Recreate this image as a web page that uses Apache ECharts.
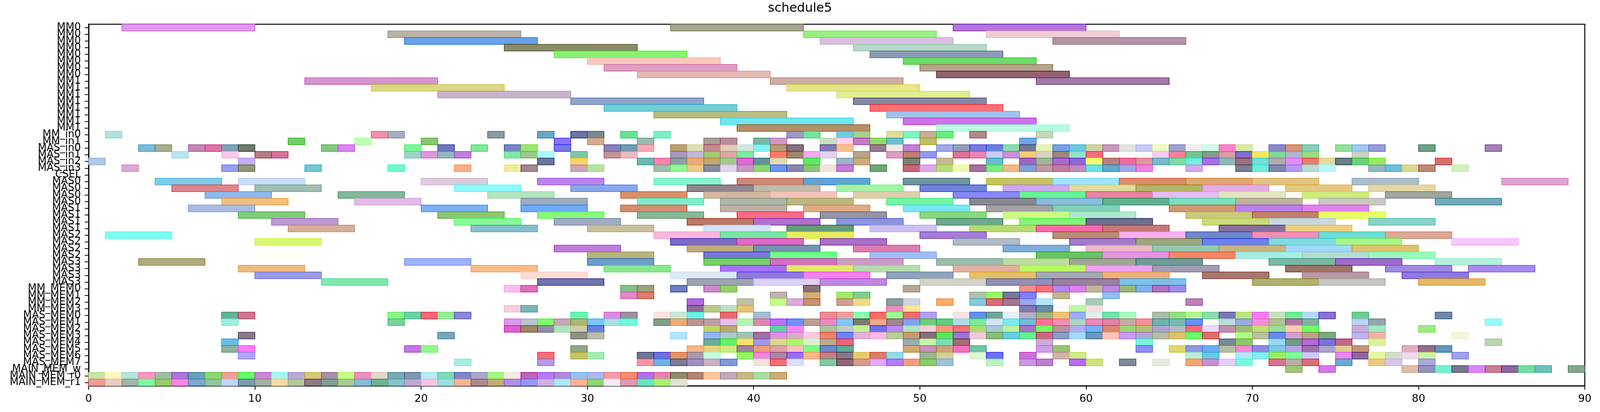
<!DOCTYPE html>
<html>
<head>
<meta charset="utf-8">
<title>schedule5</title>
<script src="https://cdn.jsdelivr.net/npm/echarts@6/dist/echarts.min.js"></script>
<style>
  html, body { margin: 0; padding: 0; background: #fff; overflow: hidden; }
  #chart { width: 100vw; height: 100vh; }
</style>
</head>
<body>
<div id="chart"></div>
<script>
// row names, top to bottom
var rowLabels = [
  'MM0','MM0','MM0','MM0','MM0','MM0','MM0','MM0',
  'MM1','MM1','MM1','MM1','MM1','MM1','MM1','MM1',
  'MM_in0','MM_in1','MAS_in0','MAS_in1','MAS_in2','MAS_in3','CSEL',
  'MAS0','MAS0','MAS0','MAS0','MAS1','MAS1','MAS1','MAS1',
  'MAS2','MAS2','MAS2','MAS2','MAS3','MAS3','MAS3','MAS3',
  'MM_MEM0','MM_MEM1','MM_MEM2','MM_MEM3',
  'MAS_MEM0','MAS_MEM1','MAS_MEM2','MAS_MEM3','MAS_MEM4','MAS_MEM5','MAS_MEM6','MAS_MEM7',
  'MAIN_MEM_w','MAIN_MEM_r0','MAIN_MEM_r1'
];
var xTicks = [0, 10, 20, 30, 40, 50, 60, 70, 80, 90];

// task lengths per kind of row
var mmLength = 8;
var masLength = 4;
var unitLength = 1;

// MM0 / MM1 rows (0..15)
var mmStarts = [
  [2,35,52],[18,43,54],[19,44,58],[25,46],[28,47],[30,49],[31,50],[33,51],
  [13,41,57],[17,42],[21,45],[29,46],[31,47],[34,48],[38,49],[39,51]
];
var mmColors = [
  ['#e099f0','#a5a592','#b277de'],['#bbb0a6','#98ef7f','#f3cbd4'],['#6aa1e8','#d9c0e0','#b594a8'],
  ['#8c8b6a','#b5d8c7'],['#88f270','#8d9cb5'],['#f8c8be','#6cdc6a'],['#dd9ec3','#b4a48a'],['#e4b8b6','#93636f'],
  ['#d595d0','#ccaea6','#a37aa8'],['#dbd784','#e6e58a'],['#c8b3cc','#e1ed8f'],['#91a4cc','#8388a3'],
  ['#72ced8','#fe6f72'],['#b8bd82','#9ec3ec'],['#73e5ef','#cc75e8'],['#b68f66','#b9fae0']
];

// MM_in0 .. CSEL rows (16..22)
var inStarts = [
  [1,17,18,24,27,29,30,32,34,42,43,45,46,48,49,50,51,53,57],
  [12,16,20,28,30,33,37,38,40,41,44,45,46,47,48,50,56],
  [3,4,6,7,8,9,14,15,19,21,23,25,26,28,31,32,33,35,36,37,38,39,40,41,42,44,45,47,48,49,51,52,53,54,55,56,57,58,59,60,61,62,63,64,65,66,67,68,69,71,72,73,75,76,77,80,84],
  [5,8,10,11,19,20,21,22,25,26,27,29,31,32,35,36,37,38,39,41,42,43,44,46,48,49,50,52,53,54,55,56,57,58,59,60,64,65,66,67,68,69,70,71,72,73,76],
  [0,9,27,29,33,34,35,36,37,38,39,40,41,43,45,46,49,51,54,56,57,58,59,60,61,62,63,64,65,66,67,68,69,70,71,72,73,74,75,76,77,81],
  [2,8,9,13,18,22,25,26,29,30,34,35,36,37,38,39,40,41,42,43,44,45,47,49,50,51,52,53,54,55,56,57,58,59,60,61,62,63,66,69,70,71,72,73,74,77,78,79,80,82],
  []
];
var inColors = [
  ['#b0e2dc','#f08fa5','#a7adbf','#8d9b9e','#6aa9c6','#6d73a4','#7d8a8d','#64e495','#7bf0c8','#9d97c6','#6ee898','#72ccdf','#a5d38a','#e2de9a','#7bf7bd','#c9ad98','#66ef7a','#ae8a8c','#c4d9b8'],
  ['#74cc6c','#c2fdb8','#88c670','#8a75f8','#d2ad91','#95bbb1','#a89e93','#b48e9a','#78b6a6','#ce99c9','#c8dfc0','#fdd3ee','#c37ac8','#94dc6c','#6bbfcd','#bfc06a','#70a6e0'],
  ['#79bad6','#a4b08d','#c088b3','#df70a8','#7fa2b8','#6f7a6e','#86c97e','#dc82f4','#78f898','#7078bc','#7ee89a','#7688c4','#98e86e','#7878e8','#8882bc','#6aa0ac','#f8aab4','#bba06e','#dddfb4','#c88890','#e2c8bc','#cfe8dc','#88f2f4','#b49c6c','#867080','#8478b4','#f8c08c','#9a7a90','#f4e8e6','#c081d4','#a0a8e8','#929db8','#7878e0','#6c80e0','#8cdcaa','#787890','#e8f2b4','#78a0e8','#6cc8e0','#cfd3a4','#c898bc','#e2e2de','#c8ccf4','#f0fac0','#9ea0d0','#f2eeec','#d4fae8','#fc84cc','#d8e8a8','#8c88cc','#d49478','#84d0b4','#96e09c','#9ec8ec','#989cd8','#6fa088','#a480b8'],
  ['#b8e4f0','#f6cae8','#b47c80','#d670a0','#9cd4c8','#dc98e0','#90b8c0','#bc80dc','#80e8a4','#9cc890','#acfcfc','#7cc8a4','#c09498','#ecb8c0','#a898c0','#c0b8d8','#a4c874','#dca8a8','#7cec9c','#f87c70','#a08470','#eeaaf4','#e0d4e8','#b4a888','#d8a0c4','#bc8070','#9498f4','#e07094','#ec84b0','#c4d0f8','#c890d8','#f4cc74','#d8d4c0','#9c8878','#90e4d0','#f86a80','#f4cdf0','#f88098','#70c890','#80a088','#dc9aa8','#8070d0','#f2ea64','#80d898','#b0b4d0','#a0d884','#c8d0c0'],
  ['#b0c8e8','#c6b0f4','#68789c','#fad26c','#6cb8b0','#fa84ac','#8ca0a4','#e8ac78','#c4a870','#a4c890','#e068d8','#6890a0','#e0dcb0','#64e864','#9cb4c4','#c8ac80','#7a8474','#c8b898','#6cb8d0','#a264c4','#a0b49c','#a46cd0','#8c68d8','#f4fc70','#bc8080','#ec6c9c','#e0949c','#7cb8cc','#80d8a8','#70f0e0','#a870e4','#90b8b4','#a07080','#78dcd8','#b4a8b0','#e090f0','#e87c70','#e4d8a0','#6c7c88','#70d07c','#98ec60','#d87070'],
  ['#dca8d4','#98a0f4','#909878','#70c8d8','#6cfcd0','#f8b084','#ecee9c','#a08890','#cca8b4','#b4e4a0','#9cc0ac','#90f890','#ecc88c','#888ca4','#e0d4f0','#c898c0','#8cd870','#6c94f8','#8888b0','#8cc478','#f0e4dc','#c878dc','#70a878','#cc6478','#dca8e8','#b8dc7c','#ecfcac','#a870a0','#78ec80','#f4b884','#80a0d8','#c098a8','#c47ca0','#c08cbc','#6ce0e8','#64a8d0','#a0a8e8','#ec84e0','#d4a8f0','#7c8090','#70ecd8','#8088b0','#b898f4','#b8dcd0','#b4fafc','#94b8c0','#6cc0dc','#dcd894','#bc8878','#d4f0bc'],
  []
];

// MAS0 .. MAS3 rows (23..38)
var masStarts = [
  [4,9,20,27,34,39,43,49,54,58,62,66,70,76,85],
  [5,10,22,29,36,40,45,50,55,59,63,67,72,77],
  [7,15,24,32,37,41,46,52,56,60,64,68,73,78],
  [8,16,26,33,38,42,48,53,57,61,65,69,74,81],
  [6,20,26,32,38,43,49,54,58,65,69,73],
  [9,21,27,33,39,44,50,55,59,66,70,74],
  [11,22,28,36,40,45,51,56,60,67,71,77],
  [12,23,30,37,42,47,53,57,61,68,72],
  [1,34,38,42,50,58,62,66,70,74,78],
  [10,35,39,44,52,59,63,67,71,75,82],
  [28,36,40,46,55,60,64,68,72,76],
  [30,37,41,47,57,61,65,69,73,77],
  [3,19,30,37,41,45,51,55,59,63,71,75,81],
  [9,23,31,38,42,46,52,56,60,64,72,78,83],
  [10,26,35,39,43,48,53,57,61,67,73,79],
  [14,27,36,40,44,50,54,58,62,70,74,80]
];
var masColors = [
  ['#80cae8','#cadcf4','#ddcbdd','#bc84ec','#88f4cf','#cf8a78','#64a4d4','#73959c','#c4c464','#9ee4fc','#dc8c70','#e0a870','#e4c484','#acbccc','#e0a4d0'],
  ['#e0848c','#a0bfb1','#8cfafa','#88a8ec','#908490','#c4b8a8','#a2f4a4','#7084e0','#cca8f0','#e0dc9c','#b4b464','#e4ace0','#e4c87c','#e4d8a8'],
  ['#90b8ea','#82b89c','#b4e4c0','#d8906c','#d4b8a0','#f4c4bc','#dcd0ac','#8888f8','#68f494','#e884a0','#e4bcf4','#e2e4c0','#ccec80','#9ea69e'],
  ['#f2be7c','#e0bce4','#9eacbc','#80eccc','#aab8a8','#bcb884','#78f4a4','#888890','#8cbcd8','#64b090','#7ce0c0','#bcb4a0','#c8c8c0','#74aab8'],
  ['#a8bce4','#7ab0f4','#6aacfc','#d48c70','#c0b0a4','#e0ac84','#78e8f4','#a4a0a4','#80d0b8','#d09870','#bc80ec','#e080ec'],
  ['#80cc7c','#8cc474','#88f880','#88b898','#fa6c88','#9494a4','#88d880','#ccfa88','#b0e8d0','#ccc880','#c08070','#e8fc68'],
  ['#c098d4','#88f898','#a0acc4','#bc7868','#b070cc','#8c94dc','#70a890','#80f878','#6c7090','#c8dc7c','#c8d8e0','#88d4c8'],
  ['#d8b098','#84c0cc','#c8c09c','#d0e4f8','#649c74','#ccc0f4','#b4dc70','#fc68a8','#c87878','#8870a0','#ecd080'],
  ['#80fcf0','#fcb8dc','#7ce4a0','#e4ec64','#a47cd8','#bc8c74','#fcb0f0','#7088c8','#f090b8','#70dcd4','#dca898'],
  ['#d8f874','#7c6cc8','#e068c8','#a870c8','#b0bcc4','#a07cc8','#9ca87c','#6c80f0','#80dce0','#a8f48c','#f4c8fc'],
  ['#c07cdc','#c0ac7c','#7094b0','#dc7cb0','#7caedc','#ecb8c8','#94c8b0','#c8b480','#a0d8fc','#dcc46c'],
  ['#b8b480','#7878d8','#70fc8c','#a4bcf0','#68c468','#e494e0','#f0886c','#a8ece4','#b4dcd4','#9cf8bc'],
  ['#b0ac7c','#a0b0f8','#6c9ecc','#78d068','#d470c0','#cc9cc4','#9cbcb0','#bcdca0','#9ea894','#6c9c98','#7cb8a4','#9c6cc8','#b4f0dc'],
  ['#f0bc7c','#f8bc88','#88e890','#a470fc','#e4e868','#b4dcac','#e4b09c','#b8fc60','#f0a0f0','#a49cb0','#9c7468','#a088e4','#a888f0'],
  ['#9c9ce4','#fcdcd4','#dce8f4','#9078e4','#f480ec','#90a4bc','#e4c068','#a4a8b0','#ecb07c','#a87870','#b898a4','#9078e0'],
  ['#80e8b0','#7074b0','#9ca4b4','#dcd0f4','#c088e0','#d4d2c8','#9090b8','#9a80a0','#7cc0ec','#b0b070','#c4c8c0','#e4b868']
];

// MM_MEM0 .. MAIN_MEM_r1 rows (39..53)
var memStarts = [
  [25,26,32,33,35,37,38,43,49,56,57,58,59,60,61,62,63,64,65],
  [32,33,41,43,45,46,53,54,55,56,58,61],
  [36,39,41,42,43,45,46,48,49,51,53,54,55,56,57,60,66],
  [25,26,36,37,38,39,48,49,56,57,59,60],
  [8,9,18,19,20,21,22,29,31,32,34,35,36,38,40,44,45,46,47,48,49,50,52,53,54,55,56,57,58,59,60,61,62,64,65,66,67,68,69,70,71,72,73,74,76,81],
  [8,18,25,26,27,28,29,30,31,32,34,35,36,37,38,39,40,41,42,43,44,45,46,47,48,49,50,51,52,53,54,55,56,57,58,59,60,61,62,63,64,65,66,68,69,70,71,72,73,76,77,84],
  [25,26,27,28,29,30,37,38,41,42,44,45,46,47,48,49,50,51,52,53,54,55,56,57,58,59,60,61,62,63,64,65,66,67,68,69,70,71,72,73,76,77,80],
  [9,21,29,30,35,37,38,39,40,41,42,43,44,45,46,47,48,49,50,51,52,53,54,55,56,57,58,59,60,61,62,63,64,65,66,67,69,70,71,72,73,74,76,77,82],
  [8,37,38,39,40,41,42,43,44,45,49,50,51,52,57,63,68,69,71,72,73,74,75,77,84],
  [8,9,19,20,29,36,37,38,39,40,41,42,43,44,45,49,50,51,52,53,57,58,63,65,66,67,68,69,70,71,72,73,74,75,76,79,80,81],
  [9,27,29,30,33,34,35,36,37,39,40,41,42,43,44,45,46,47,48,50,51,53,54,56,58,59,66,67,69,70,71,72,73,75,76,77,78,79,80,82],
  [22,27,33,34,35,36,37,38,40,41,42,44,45,46,47,48,49,50,51,54,56,57,59,60,62,64,66,67,68,69,71,72,73,75,77,78,80],
  [72,74,79,80,81,82,83,84,85,86,87,89],
  [0,1,2,3,4,5,6,7,8,9,10,11,12,13,14,15,16,17,18,19,20,21,22,23,24,25,26,27,28,29,30,31,32,33,34,35,36,37,38,39,40,41],
  [0,1,2,3,4,5,6,7,8,9,10,11,12,13,14,15,16,17,18,19,20,21,22,23,24,25,26,27,28,29,30,31,32,33,34,35]
];
var memColors = [
  ['#fcbcec','#e070b8','#84c088','#a0a07c','#6c80c0','#cc88cc','#94d068','#8c7078','#b4a898','#f09088','#fc7078','#b484f4','#e080f0','#bcb898','#bc88e8','#94b878','#80b0ec','#b470c0','#a08cec'],
  ['#e08cc4','#d88070','#c0b0b4','#ccb080','#a0ec6c','#80cc98','#b0c0ac','#98f870','#787898','#8080f8','#c0b490','#94bcec'],
  ['#ac6ce0','#c0c0a4','#c4fc88','#dca8dc','#c89070','#d0a090','#f4d888','#88a0a4','#ccd4dc','#f8ac68','#80ccdc','#dc6c74','#a47894','#98a8ec','#b8e4fc','#a4ccb8','#c080b8'],
  ['#f4d0dc','#7cb8b4','#8c6c90','#bcc888','#bce0c8','#e4c470','#e890bc','#fce898','#8478b0','#6c8ca8','#bcf8a0','#f4e0e4'],
  ['#6cb094','#cc7890','#8cf48c','#70d0ac','#f86878','#98ec98','#8c88d0','#6cf4b8','#e088e4','#a090a4','#fce4dc','#c4e8d4','#6cf4e4','#e86c6c','#a0c0d4','#ec8c94','#f0a098','#8cfcb8','#f86c6c','#9cfc98','#ec7070','#b89cf8','#f4e4e4','#6890e8','#74a498','#eaecf8','#bcacc4','#9cb888','#ecc478','#9cacf4','#e4f0e8','#70e4ac','#acf8c0','#acbcac','#98dc80','#b4f890','#8cdcac','#7c78b4','#c0e47c','#f480f4','#c8e0c0','#6cec94','#b0dcf4','#8c70d4','#70cc90','#7088a8'],
  ['#9ceee0','#78d498','#dc98ec','#b8c4cc','#7cfc6c','#c4a8b4','#a8b870','#78c4fc','#a4e0e4','#6cfcd8','#7ca088','#ecac78','#c09494','#bc9ca4','#e4c0ec','#b0f4b0','#e088b0','#bc70f8','#7090fc','#bca090','#e88cc4','#80c8fc','#7c7c68','#f0a88c','#a08490','#80a4ec','#6ccc78','#60cc80','#b0dce8','#78ec98','#d4e4f4','#78ecec','#70bcdc','#fc7490','#f490b4','#a8d4c4','#ec88b8','#e084a4','#c4aca4','#f49098','#6cb4a8','#78b8b8','#6890f8','#b8dcdc','#98acdc','#f490dc','#acc490','#b478a8','#84b0a0','#b8d4f4','#94a4ac','#98fcfc'],
  ['#dc64cc','#9c8868','#9090a4','#b0e4bc','#d0ccac','#6c80e4','#c4d068','#bca874','#64d0a0','#f488f4','#b0c09c','#c0ccc8','#c8f09c','#7070ec','#b88cec','#b0e4c4','#f4d0dc','#fc9880','#ec7474','#acdc70','#a8c8dc','#bcf0a0','#ac70c4','#78fc68','#bc90a0','#b4acec','#78b0fc','#e08474','#a0d478','#b8c070','#aca4d4','#acbcc4','#ec6c7c','#ecd8f8','#c090b0','#9cbc78','#c4dc78','#9cdc98','#f8d0ac','#70fc70','#ccacd8','#9cecc4','#9cec84'],
  ['#887890','#78a8b8','#8c9484','#bcbcb0','#b4e4fc','#94b4f0','#b0c8cc','#a0c4b8','#a070a0','#e090ec','#dca8d4','#fccce0','#f08070','#7084f8','#e0b4d8','#f8bce4','#bccc9c','#c49c74','#886c7c','#64e05c','#9878cc','#ecccdc','#8cbc7c','#6cccdc','#6cec94','#cc6884','#8c9cc8','#a8d8fc','#6c98b8','#fcc4b8','#c89cfc','#b4a4d8','#b8bca4','#d8c470','#74f874','#d87070','#b4f88c','#b8c0a0','#6888e0','#d4a0cc','#b8a884','#7cac7c','#bcb4ec','#f0b4b0','#f8f4dc'],
  ['#68bce8','#6cac98','#64f064','#fce068','#a098e8','#dcd894','#b0f470','#dcf0d4','#b8ac90','#e86878','#98acb4','#c8f4a8','#80dcb8','#a46c74','#ccacd4','#78f4dc','#788894','#8cc86c','#98d8f8','#709c88','#b468d4','#7c70d8','#c06888','#d8f498','#b8d8b0'],
  ['#8cb49c','#fc7cf4','#c478e4','#90fc88','#90a888','#fcb488','#e4d480','#ccec80','#a0849c','#f09c78','#dca4a4','#fcc0c0','#80fc80','#6c88cc','#64a898','#d0a870','#c890b8','#cca478','#f870c0','#70c4a8','#d09cec','#9cc470','#8c90f4','#dcd870','#9098e0','#6cacf8','#b4c09c','#f888d4','#9088e0','#78cce4','#b4a8e4','#a070ac','#aaa4d0','#e0cc8c','#c49478','#e4acc0','#907088','#6498c0'],
  ['#b0a8f8','#f47078','#c4c46c','#a4ecb4','#6c7898','#7070d8','#e0946c','#a89cb0','#c4fcdc','#94f468','#f088dc','#a888a4','#9870f0','#fcb88c','#c48084','#88788c','#e4cc70','#dc7c6c','#94dce4','#9cb490','#d4cca0','#dcf8d4','#7070f4','#cc70d8','#d0b4ac','#ccec88','#bcecd8','#6cc8e0','#b4e8f4','#88ecf0','#9cec68','#84fc9c','#ccccfc','#ec88f4','#8c68a0','#e4f8a4','#d4dcc8','#ecdcec','#d0f0a4','#a0a0ec'],
  ['#a4ece4','#b09ce4','#fc94a4','#6cb4e8','#7c7c98','#9c90c4','#ccb0c8','#8098d8','#f0e4d8','#f86c74','#dce0fc','#7ccca0','#906878','#d89c88','#e4a8fc','#b47cfc','#f49c80','#8ccc68','#98c4dc','#b8f4bc','#c898e0','#c07cd4','#bc68fc','#cce47c','#808c9c','#e4ecdc','#f8a470','#c890d4','#e8ccfc','#74fce0','#e07090','#bcacac','#dc7078','#6cacd0','#ecc880','#d8c4ec','#a8a8e0'],
  ['#a0c478','#d478e4','#e0bca4','#9494bc','#74f0d0','#787890','#d888f8','#c87c94','#8c68a0','#78dca0','#70c0bc','#84a890'],
  ['#c8e4a8','#fcf8c0','#b4e4dc','#fc98bc','#a0bca8','#a878d8','#6ca0b4','#8cd870','#f0a090','#68fc68','#c888d8','#a8f4f0','#bca8d8','#d8c878','#a890a8','#c8fc88','#f08cc0','#e4d8c8','#7ca8b4','#7c98b0','#b4ecf0','#84d8b8','#7c88cc','#a8a8c8','#a0f884','#f4ece0','#c464b8','#b47cfc','#b488d8','#90c4f4','#b0b8f8','#f49ca8','#f88c6c','#b470e8','#e884b0','#8c8c70','#b48474','#f8c89c','#bcacbc','#c8b888','#acdcac','#ccac78'],
  ['#f49a94','#ecccc0','#a0b4a8','#7cfca0','#94cc6c','#fc84e0','#7ca8d0','#94c49c','#c0d4fc','#7c9cb0','#a4b0a0','#f4dca0','#b0c8a0','#907888','#7ca094','#a8cc90','#84bcd8','#6cb494','#84c4cc','#bca8d4','#f8c4e4','#98e0e4','#f4b490','#b08890','#c4ac70','#b090e4','#9498fc','#d4b0e4','#a8e8fc','#fcb094','#88d870','#f4e8f4','#e098b0','#64e8c0','#a4f470','#e0e4d4']
];

// flatten everything into [start, end, row] + fill colour
var bars = [];
var barFill = [];
function addGroup(starts, colors, firstRow, len) {
    for (var r = 0; r < starts.length; r++) {
        for (var k = 0; k < starts[r].length; k++) {
            bars.push([starts[r][k], starts[r][k] + len, firstRow + r]);
            barFill.push((colors[r] && colors[r][k]) || '#cccccc');
        }
    }
}
addGroup(mmStarts, mmColors, 0, mmLength);
addGroup(inStarts, inColors, 16, unitLength);
addGroup(masStarts, masColors, 23, masLength);
addGroup(memStarts, memColors, 39, unitLength);

// edge = same hue, less transparent (fill is the colour at ~50% alpha on white)
function edgeOf(hex) {
    var out = '#';
    for (var i = 1; i < 7; i += 2) {
        var v = parseInt(hex.substr(i, 2), 16);
        v = Math.max(0, Math.min(255, Math.round(1.6 * v - 153)));
        out += (v < 16 ? '0' : '') + v.toString(16);
    }
    return out;
}

var FONT = 'DejaVu Sans';
var chart = echarts.init(document.getElementById('chart'));
var W = chart.getWidth();

var option = {
    backgroundColor: '#ffffff',
    animation: false,
    // figure title sits at the middle of the whole figure
    graphic: [{
        type: 'text',
        x: W * 0.5,
        y: 22,
        style: { text: 'schedule5', fontSize: 32, fontFamily: FONT, fill: '#000', align: 'center', verticalAlign: 'middle' }
    }],
    grid: {
        left: '5.54%', right: '0.95%', top: 62, bottom: 67,
        show: true, borderColor: '#000', borderWidth: 2.5, backgroundColor: 'transparent'
    },
    xAxis: {
        type: 'value',
        min: xTicks[0],
        max: xTicks[xTicks.length - 1],
        interval: 10,
        splitLine: { show: false },
        axisLine: { show: true, lineStyle: { color: '#000', width: 2.5 } },
        axisTick: { show: true, length: 10, lineStyle: { color: '#000', width: 2 } },
        axisLabel: { fontSize: 27, fontFamily: FONT, color: '#000', margin: 20 }
    },
    yAxis: {
        type: 'category',
        data: rowLabels,
        inverse: true,
        axisLine: { show: true, lineStyle: { color: '#000', width: 2.5 } },
        axisTick: { show: true, alignWithLabel: true, length: 10, lineStyle: { color: '#000', width: 2 } },
        axisLabel: { interval: 0, fontSize: 26, fontFamily: FONT, color: '#000', margin: 20 },
        splitLine: { show: false }
    },
    series: [{
        type: 'custom',
        data: bars,
        encode: { x: [0, 1], y: 2 },
        renderItem: function (params, api) {
            var row = api.value(2);
            var a = api.coord([api.value(0), row]);
            var b = api.coord([api.value(1), row]);
            var h = api.size([0, 1])[1];
            var fill = barFill[params.dataIndex];
            return {
                type: 'rect',
                shape: { x: a[0], y: a[1] - h / 2, width: b[0] - a[0], height: h },
                style: { fill: fill, stroke: edgeOf(fill), lineWidth: 1.5 }
            };
        }
    }]
};
chart.setOption(option);
</script>
</body>
</html>
